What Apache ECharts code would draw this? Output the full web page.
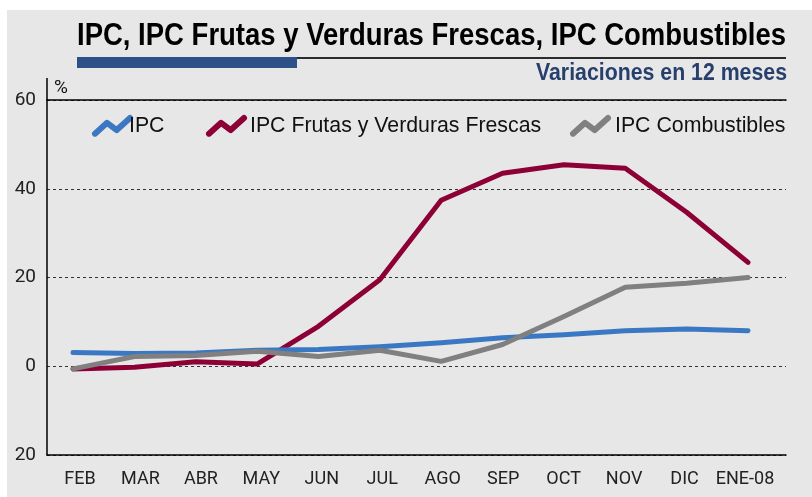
<!DOCTYPE html>
<html>
<head>
<meta charset="utf-8">
<script src="https://cdn.jsdelivr.net/npm/echarts@6/dist/echarts.min.js"></script>
<style>
  html, body { margin: 0; padding: 0; background: #ffffff; }
  #chart { width: 812px; height: 497px; }
</style>
</head>
<body>
<div id="chart"></div>
<script>
var meses = ['FEB', 'MAR', 'ABR', 'MAY', 'JUN', 'JUL', 'AGO', 'SEP', 'OCT', 'NOV', 'DIC', 'ENE-08'];

var ipc          = [3.1, 2.9, 3.0, 3.6, 3.8, 4.4, 5.3, 6.4, 7.1, 8.0, 8.4, 8.0];
var frutas       = [-0.6, -0.2, 1.0, 0.5, 9.0, 19.5, 37.4, 43.5, 45.4, 44.6, 34.7, 23.4];
var combustibles = [-0.6, 2.2, 2.4, 3.4, 2.2, 3.6, 1.1, 4.9, 11.2, 17.8, 18.7, 20.0];

var yTicks = [-20, 0, 20, 40, 60];

var titulo = 'IPC, IPC Frutas y Verduras Frescas, IPC Combustibles';
var subtitulo = 'Variaciones en 12 meses';

var sans = '"Liberation Sans", Arial, sans-serif';
var labelFont = 'Roboto, "Liberation Sans", sans-serif';
var colIPC = '#3b78c4';
var colFrutas = '#8c0036';
var colComb = '#808080';
var zigzag = 'path://M2,15L12,6L20,12L31,2';

// ancho natural de un texto, para comprimirlo al ancho del original
var ctx = document.createElement('canvas').getContext('2d');
function ancho(txt, font) {
    ctx.font = font;
    return ctx.measureText(txt).width;
}
var fTitulo = 'bold 32px "Liberation Sans"';
var fSub = 'bold 23px "Liberation Sans"';
var escTitulo = 709 / ancho(titulo, fTitulo);
var escSub = 251 / ancho(subtitulo, fSub);

function leyenda(nombre, color, x, pad) {
    return {
        left: x,
        top: 115,
        itemWidth: 35,
        itemHeight: 17,
        itemGap: 0,
        padding: 0,
        textStyle: { fontFamily: sans, fontSize: 21.3, color: '#111', padding: [2, 0, 0, pad] },
        data: [{
            name: nombre,
            icon: zigzag,
            itemStyle: { color: 'rgba(0,0,0,0)', borderColor: color, borderWidth: 6, borderCap: 'round', borderJoin: 'round' }
        }]
    };
}

var chart = echarts.init(document.getElementById('chart'));

var option = {
    animation: false,
    backgroundColor: '#ffffff',
    legend: [
        leyenda('IPC', colIPC, 92, -6),
        leyenda('IPC Frutas y Verduras Frescas', colFrutas, 206, 1),
        leyenda('IPC Combustibles', colComb, 570, 2)
    ],
    graphic: [
        { type: 'rect', z: -10, shape: { x: 7, y: 10, width: 805, height: 487 }, style: { fill: '#e7e7e7' } },
        { type: 'rect', shape: { x: 77, y: 57, width: 709, height: 2 }, style: { fill: '#2b2b2b' } },
        { type: 'rect', shape: { x: 77, y: 57, width: 220, height: 11 }, style: { fill: '#2e5089' } },
        { type: 'line', shape: { x1: 47, y1: 78, x2: 47, y2: 100 }, style: { stroke: '#000', lineWidth: 1.5 } },
        { type: 'text', x: 54, y: 79, style: { text: '%', font: '19px ' + labelFont, fill: '#111', verticalAlign: 'top' } },
        {
            type: 'text', x: 77, y: 36, scaleX: escTitulo,
            style: { text: titulo, font: fTitulo, fill: '#000', verticalAlign: 'middle' }
        },
        {
            type: 'text', x: 787, y: 74, scaleX: escSub,
            style: { text: subtitulo, font: fSub, fill: '#263f6d', align: 'right', verticalAlign: 'middle' }
        }
    ],
    grid: [
        { left: 73, right: 64, top: 100, bottom: 42 },
        { left: 47, right: 26, top: 100, bottom: 42 },
        { left: 80, right: 67, top: 100, bottom: 42 }
    ],
    xAxis: [
        {
            type: 'category',
            gridIndex: 0,
            data: meses,
            boundaryGap: false,
            show: false
        },
        {
            type: 'value',
            gridIndex: 1,
            min: 0,
            max: 1,
            splitLine: { show: false },
            axisTick: { show: false },
            axisLabel: { show: false },
            axisLine: { show: true, onZero: false, lineStyle: { color: '#000', width: 1.5 } }
        },
        {
            type: 'value',
            gridIndex: 1,
            position: 'top',
            min: 0,
            max: 1,
            splitLine: { show: false },
            axisTick: { show: false },
            axisLabel: { show: false },
            axisLine: { show: true, onZero: false, lineStyle: { color: '#000', width: 1.5 } }
        },
        {
            // solo los rótulos de los meses
            type: 'category',
            gridIndex: 2,
            data: meses,
            boundaryGap: false,
            axisLine: { show: false },
            axisTick: { show: false },
            splitLine: { show: false },
            axisLabel: { margin: 15, fontFamily: labelFont, fontSize: 18, color: '#222', interval: 0 }
        }
    ],
    yAxis: [
        {
            type: 'value',
            gridIndex: 0,
            min: yTicks[0],
            max: yTicks[yTicks.length - 1],
            interval: 20,
            show: false
        },
        {
            type: 'value',
            gridIndex: 1,
            min: yTicks[0],
            max: yTicks[yTicks.length - 1],
            interval: 20,
            axisTick: { show: false },
            axisLine: { show: true, onZero: false, lineStyle: { color: '#000', width: 1.5 } },
            splitLine: { show: true, lineStyle: { color: '#333', type: [3, 3], width: 1 } },
            axisLabel: {
                margin: 11,
                fontFamily: labelFont,
                fontSize: 19,
                color: '#222',
                formatter: function (v) { return String(Math.abs(v)); }
            }
        },
        {
            type: 'value',
            gridIndex: 2,
            min: yTicks[0],
            max: yTicks[yTicks.length - 1],
            interval: 20,
            show: false
        }
    ],
    series: [
        {
            name: 'IPC', type: 'line', data: ipc, symbol: 'none', xAxisIndex: 0, yAxisIndex: 0,
            lineStyle: { color: colIPC, width: 5, cap: 'round', join: 'round' }, itemStyle: { color: colIPC }, z: 3
        },
        {
            name: 'IPC Frutas y Verduras Frescas', type: 'line', data: frutas, symbol: 'none', xAxisIndex: 0, yAxisIndex: 0,
            lineStyle: { color: colFrutas, width: 5, cap: 'round', join: 'round' }, itemStyle: { color: colFrutas }, z: 2
        },
        {
            name: 'IPC Combustibles', type: 'line', data: combustibles, symbol: 'none', xAxisIndex: 0, yAxisIndex: 0,
            lineStyle: { color: colComb, width: 5, cap: 'round', join: 'round' }, itemStyle: { color: colComb }, z: 4
        }
    ]
};

chart.setOption(option);
</script>
</body>
</html>
